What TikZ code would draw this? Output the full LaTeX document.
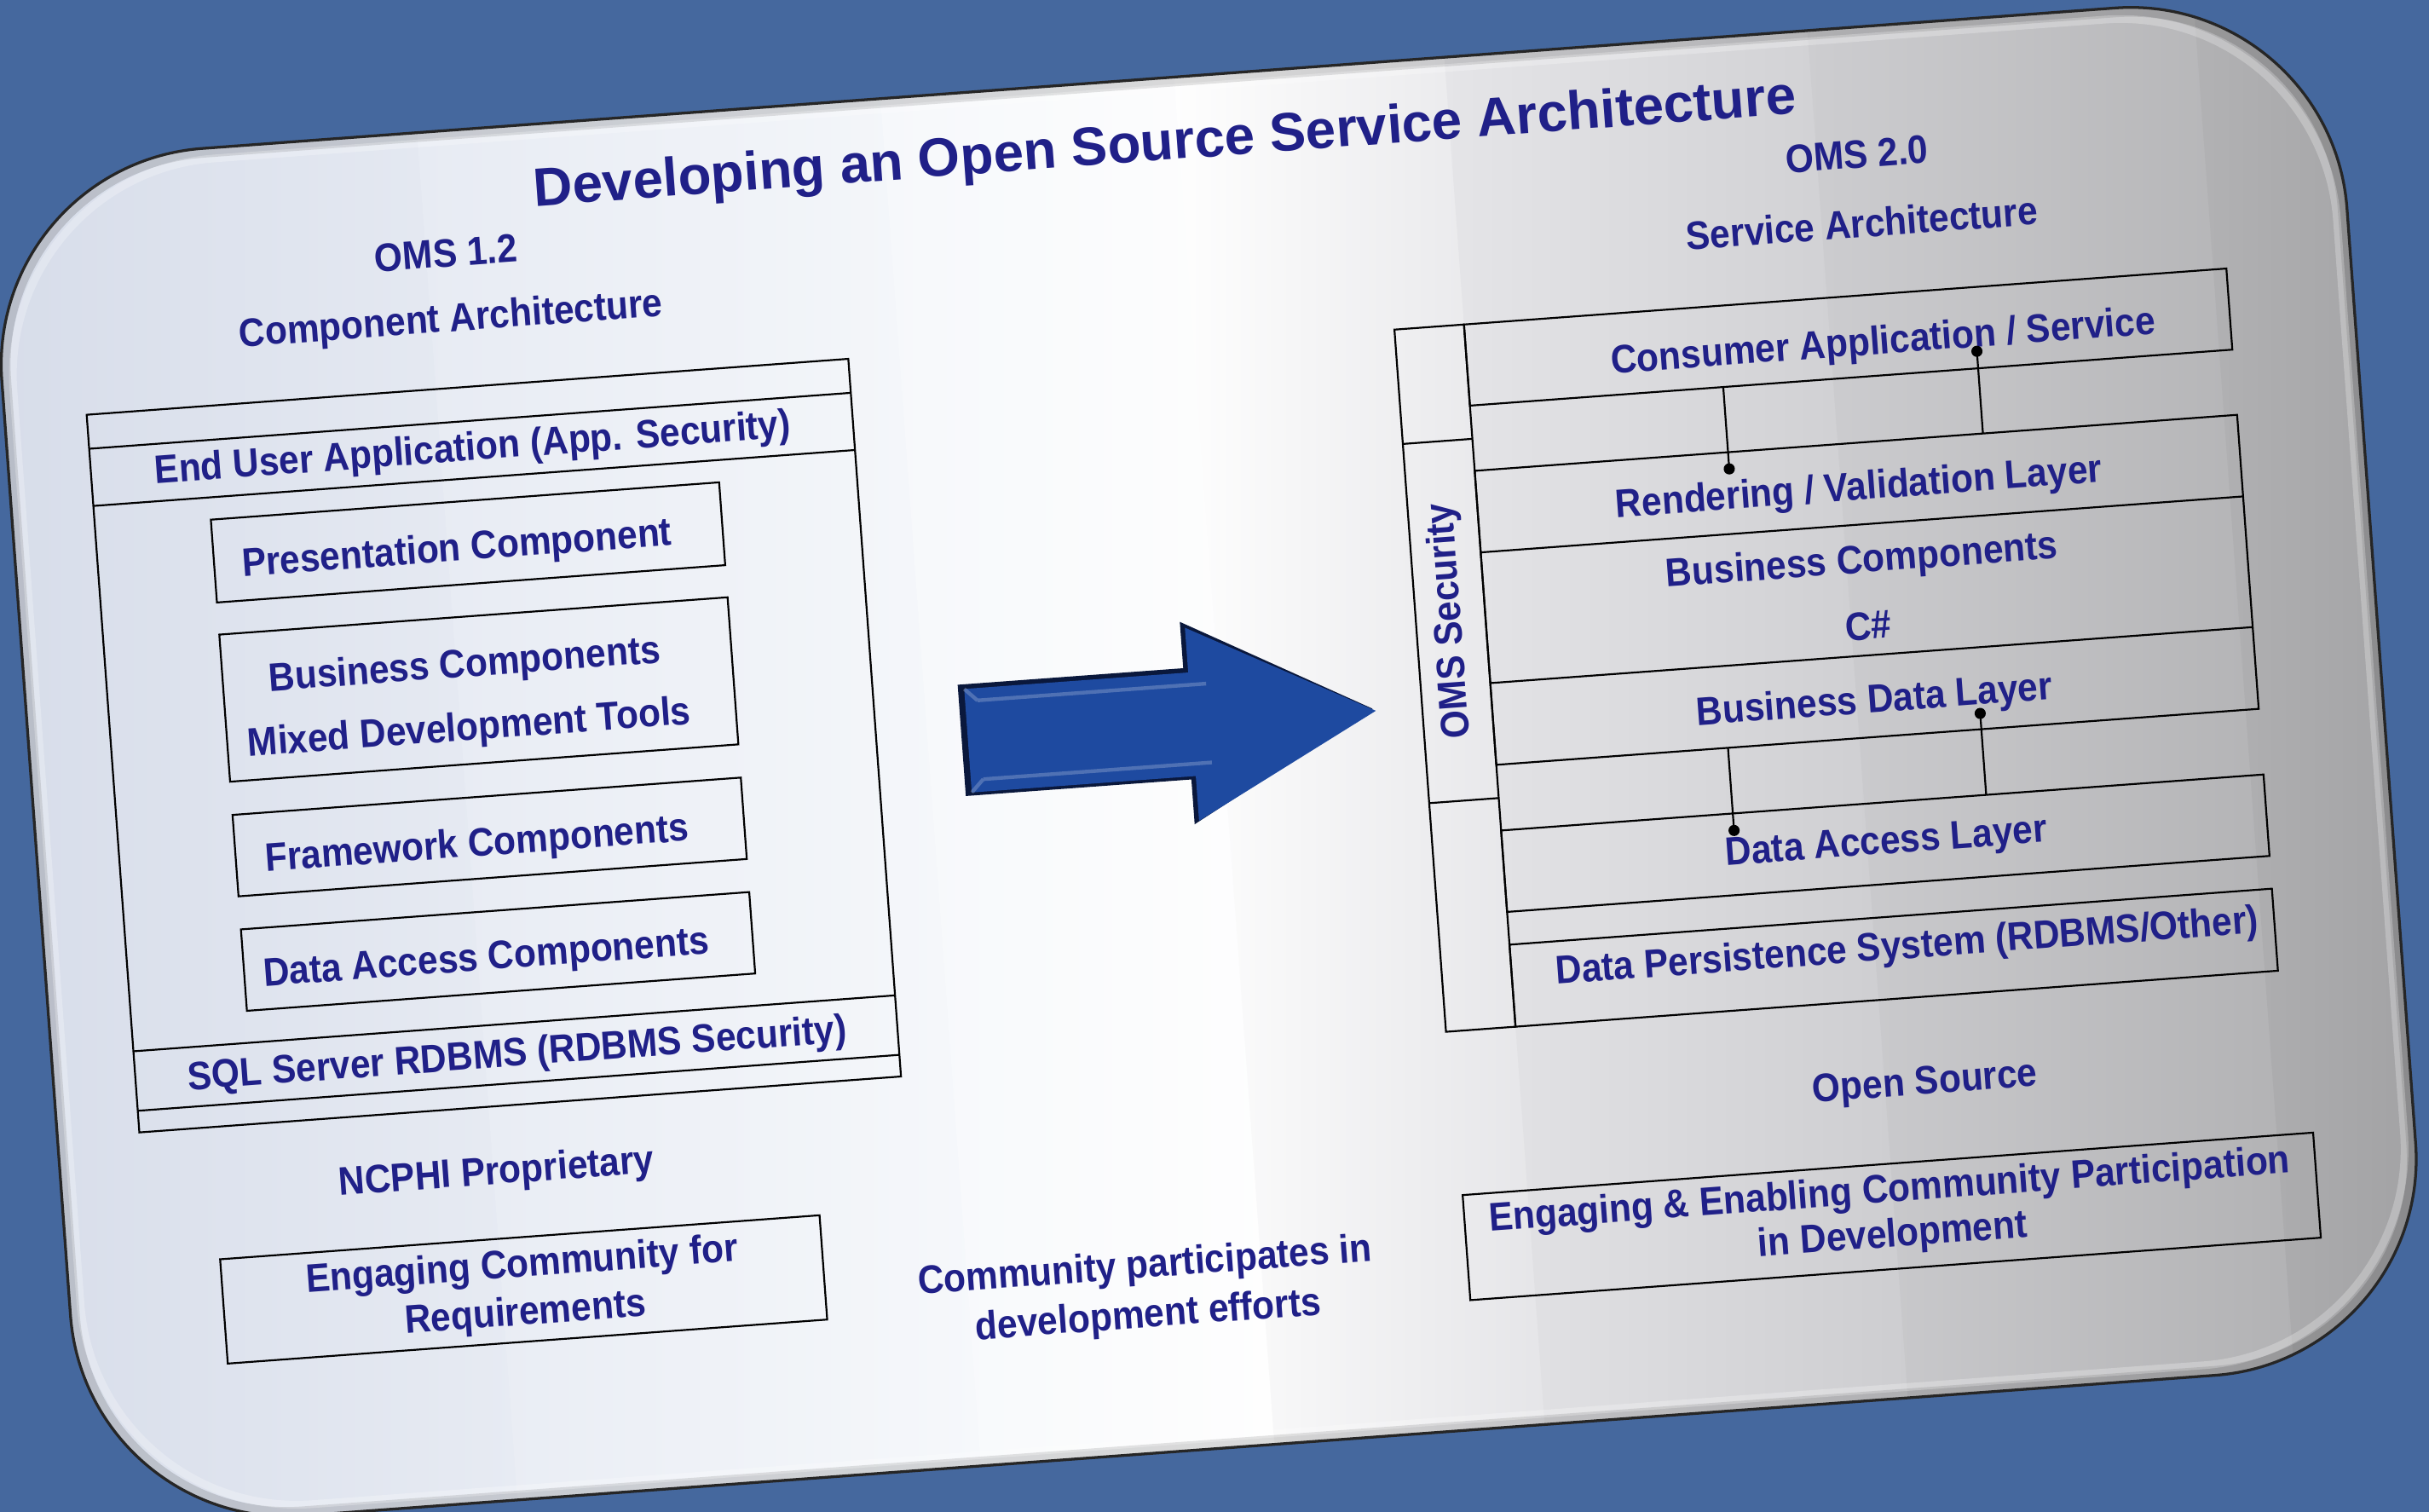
\documentclass[tikz,border=0pt]{standalone}
\usepackage{fontspec}
\setmainfont{Liberation Sans}
\newfontfamily\narrowsans{Liberation Sans}[FakeStretch=0.91]

\definecolor{bgblue}{RGB}{69,104,158}
\definecolor{ink}{RGB}{32,32,136}
\definecolor{arrowblue}{RGB}{30,74,160}
\definecolor{arrowdark}{RGB}{10,24,60}
\definecolor{cardA}{RGB}{214,220,233}
\definecolor{cardB}{RGB}{231,235,243}
\definecolor{cardC}{RGB}{246,248,251}
\definecolor{cardD}{RGB}{254,254,254}
\definecolor{cardE}{RGB}{229,229,232}
\definecolor{cardF}{RGB}{205,205,208}
\definecolor{cardG}{RGB}{178,178,180}
\definecolor{cardH}{RGB}{160,160,162}
\definecolor{tipblue}{RGB}{200,222,242}

\tikzset{
  lbl/.style={font=\narrowsans\bfseries\fontsize{12.85}{14}\selectfont,
              text=ink, inner sep=0pt, align=center},
  linegap/.style={font=\narrowsans\bfseries\fontsize{12.85}{#1}\selectfont},
  headline/.style={font=\bfseries\fontsize{17.5}{20}\selectfont,
              text=ink, inner sep=0pt},
  wire/.style={draw=black, line width=0.6pt},
  cardedge/.style={rounded corners=70pt},
}

\begin{document}
\begin{tikzpicture}[x=0.5pt, y=-0.5pt]
\useasboundingbox (0,0) rectangle (1568,976);
\fill[bgblue] (0,0) rectangle (1568,976);

% corner of a second shape peeking out under the card
\filldraw[fill=tipblue, draw=black!80, line width=0.6pt]
  (158,977) -- (186,965) -- (194,977) -- cycle;

\begin{scope}[rotate around={4.2:(784,488)}, transform shape]

  % ---------- card ----------
  \begin{scope}
    \clip[cardedge] (21,49) rectangle (1539,934);
    \shade[left color=cardA, right color=cardB] (10,40) rectangle (300.5,950);
    \shade[left color=cardB, right color=cardC] (300,40) rectangle (600.5,950);
    \shade[left color=cardC, right color=cardD] (600,40) rectangle (790.5,950);
    \shade[left color=cardD, right color=cardE] (790,40) rectangle (965.5,950);
    \shade[left color=cardE, right color=cardF] (965,40) rectangle (1200.5,950);
    \shade[left color=cardF, right color=cardG] (1200,40) rectangle (1450.5,950);
    \shade[left color=cardG, right color=cardH] (1450,40) rectangle (1550,950);
    \draw[black, opacity=0.14, line width=6pt, cardedge] (21,49) rectangle (1539,934);
    \draw[white, opacity=0.25, line width=2.5pt, cardedge] (28,56) rectangle (1532,927);
  \end{scope}
  \draw[black!85, line width=0.9pt, cardedge] (21,49) rectangle (1539,934);

  % ---------- title ----------
  \node[headline] (title) at (781,93) {Developing an Open Source Service Architecture};

  % ---------- OMS 1.2 component architecture ----------
  \node[lbl] (oms12) at (313,128) {OMS 1.2};
  \node[lbl] (comparch) at (313,172) {Component Architecture};

  \draw[wire] (74,215) rectangle (567,679.5);
  \draw[wire] (74,237) -- (567,237)  (74,274) -- (567,274)
              (74,627) -- (567,627)  (74,665.5) -- (567,665.5);
  \node[lbl] (enduser) at (321,256) {End User Application (App. Security)};

  \draw[wire] (149,288.4) rectangle (478,342);
  \node[lbl] (present) at (306,320) {Presentation Component};

  \draw[wire] (149,362.8) rectangle (478,458);
  \node[lbl] (bizcomp) at (305.5,395) {Business Components};
  \node[lbl] (mixed) at (305.5,436) {Mixed Development Tools};

  \draw[wire] (149,479.5) rectangle (478,532.2);
  \node[lbl] (framework) at (305,511) {Framework Components};

  \draw[wire] (149,553.6) rectangle (478,606.3);
  \node[lbl] (dacomp) at (305.6,585) {Data Access Components};

  \node[lbl] (sqlsrv) at (321,648) {SQL Server RDBMS (RDBMS Security)};

  \node[lbl] (ncphi) at (302,723) {NCPHI Proprietary};
  \draw[wire] (120,765) rectangle (508,832.5);
  \node[lbl, linegap=15.5pt] (engreq) at (314,799.5)
    {Engaging Community for\\Requirements};

  % ---------- transition ----------
  \fill[arrowdark] (622,430) -- (768,430) -- (768,400) -- (888,465) -- (768,531)
                   -- (768,502) -- (622,502) -- cycle;
  \fill[arrowblue] (626,433) -- (771,433) -- (771,404) -- (890,466.5) -- (771,529)
                   -- (771,500) -- (626,500) -- cycle;
  \draw[white, opacity=0.22, line width=1.2pt]
    (634,441) -- (782,441) (634,492) -- (782,492)
    (626,433) -- (634,441) (626,500) -- (634,492);
  \node[lbl, linegap=16pt] (community) at (715,830)
    {Community participates in\\development efforts};

  % ---------- OMS 2.0 service architecture ----------
  \node[lbl] (oms20) at (1226,131) {OMS 2.0};
  \node[lbl] (servarch) at (1226,175.5) {Service Architecture};

  % security column and frame
  \draw[wire] (920,222) rectangle (965,676.5);
  \draw[wire] (920,296) -- (965,296)  (920,528.5) -- (965,528.5);
  \node[lbl, rotate=90] (omssec) at (942.5,412) {OMS Security};

  \draw[wire] (965,222) rectangle (1458.5,274.5);
  \node[lbl] (consumer) at (1234,254) {Consumer Application / Service};

  \draw[wire] (965,316.7) rectangle (1458.5,507);
  \draw[wire] (965,369.5) -- (1458.5,369.5)  (965,454.1) -- (1458.5,454.1);
  \node[lbl] (render) at (1211.5,347) {Rendering / Validation Layer};
  \node[lbl] (bizcomp2) at (1210,394) {Business Components};
  \node[lbl] (csharp) at (1211,435) {C\#};
  \node[lbl] (bizdata) at (1211.5,484.5) {Business Data Layer};

  \draw[wire] (965,549.5) rectangle (1458.5,602.2);
  \node[lbl] (dalayer) at (1212.5,576.5) {Data Access Layer};

  \draw[wire] (965,623.4) rectangle (1458.5,676.5);
  \node[lbl] (persist) at (1221,644.5) {Data Persistence System (RDBMS/Other)};

  % connectors between layers
  \coordinate (ca) at (1129,274.5);  \coordinate (cb) at (1129,327.5);
  \coordinate (cc) at (1294,263.5);  \coordinate (cd) at (1294,316.7);
  \coordinate (ce) at (1115,507);    \coordinate (cf) at (1115,560.5);
  \coordinate (cg) at (1279,496.8);  \coordinate (ch) at (1279,549.5);
  \draw[wire] (ca) -- (cb)  (cc) -- (cd)  (ce) -- (cf)  (cg) -- (ch);
  \fill (cb) circle[radius=1.8pt];
  \fill (cc) circle[radius=1.8pt];
  \fill (cf) circle[radius=1.8pt];
  \fill (cg) circle[radius=1.8pt];

  \node[lbl] (opensrc) at (1226,733) {Open Source};
  \draw[wire] (923,782.4) rectangle (1473.5,850.4);
  \node[lbl, linegap=14.5pt] (engdev) at (1198,815)
    {Engaging \& Enabling Community Participation\\in Development};

\end{scope}
\end{tikzpicture}
\end{document}
